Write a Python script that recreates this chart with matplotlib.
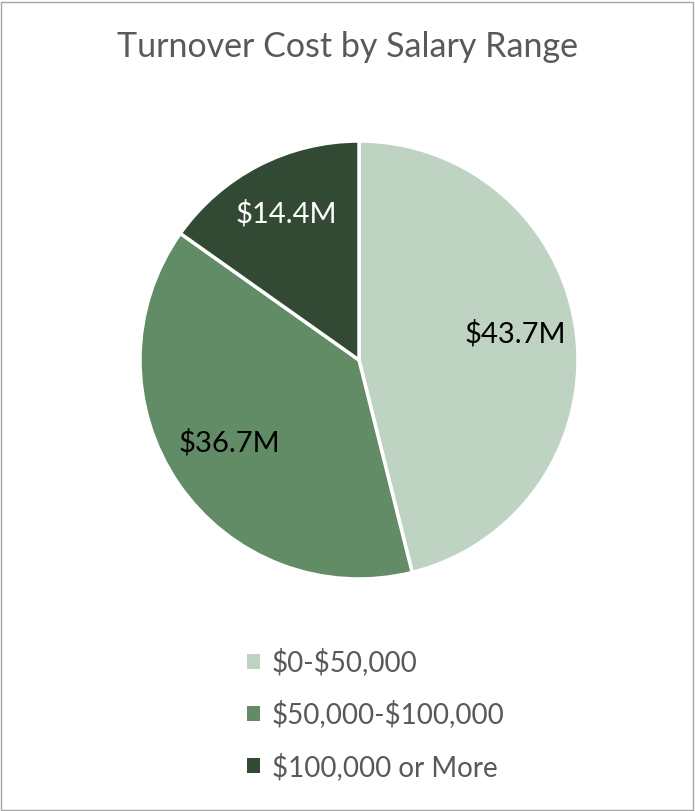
import matplotlib.pyplot as plt
from matplotlib.patches import Patch, Rectangle

categories = ['$0-$50,000', '$50,000-$100,000', '$100,000 or More']
values = [43.7, 36.7, 14.4]
labels = ['$43.7M', '$36.7M', '$14.4M']
colors = ['#BFD3C2', '#628C66', '#324933']
label_colors = ['black', 'black', 'white']

plt.rcParams['font.family'] = ['Lato', 'DejaVu Sans']
plt.rcParams['text.parse_math'] = False

W, H = 695, 811
fig = plt.figure(figsize=(W / 100, H / 100), dpi=100)

# outer border
fig.patches.append(Rectangle((1 / W, 1 / H), 1 - 3 / W, 1 - 3 / H, transform=fig.transFigure,
                             fill=False, edgecolor='#A6A6A6', linewidth=1))

cx, cy, r = 359, 360, 219
ax = fig.add_axes([(cx - r) / W, 1 - (cy + r) / H, 2 * r / W, 2 * r / H])
wedges, texts = ax.pie(values, colors=colors, startangle=90, counterclock=False,
                       labels=labels, labeldistance=0.72,
                       wedgeprops=dict(edgecolor='white', linewidth=2.5),
                       textprops=dict(fontsize=21))
for t, c in zip(texts, label_colors):
    t.set_color(c)
    t.set_horizontalalignment('center')
    x, y = t.get_position()
    t.set_position((x, y + 0.03))
ax.set_xlim(-1, 1)
ax.set_ylim(-1, 1)

fig.text(0.5, 1 - 47 / H, 'Turnover Cost by Salary Range', ha='center', va='center',
         fontsize=24.5, color='#595959')

handles = [Patch(facecolor=c, edgecolor='none') for c in colors]
fig.legend(handles, categories, loc='upper left', bbox_to_anchor=(222 / W, 1 - 623 / H),
           frameon=False, fontsize=20, labelcolor='#595959', handlelength=0.45,
           handleheight=0.45, handletextpad=0.45, labelspacing=0.88)

fig.savefig('out.png', dpi=100)
